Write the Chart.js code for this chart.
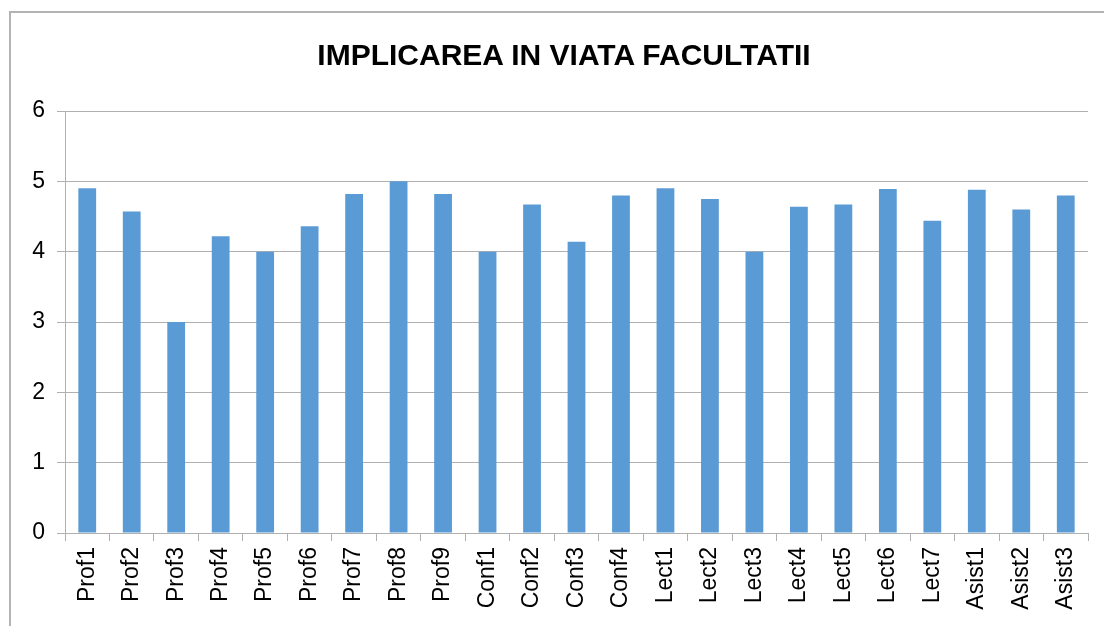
<!DOCTYPE html>
<html>
<head>
<meta charset="utf-8">
<script src="https://cdn.jsdelivr.net/npm/chart.js@4.4.1/dist/chart.umd.min.js"></script>
<style>
  html, body { margin: 0; padding: 0; background: #fff; overflow: hidden; }
  #frame { position: absolute; left: 9px; top: 11px; width: 1200px; height: 700px;
           border-left: 2px solid #b3b3b3; border-top: 2px solid #b3b3b3; }
  #wrap { position: absolute; left: 0; top: 0; width: 1104px; height: 626px; }
  #titlu { position: absolute; left: 164px; width: 800px; top: 37px; text-align: center;
           white-space: nowrap; font: bold 30px 'Liberation Sans', Arial, sans-serif; color: #000;
           line-height: 36px; }
</style>
</head>
<body>
<div id="frame"></div>
<div id="wrap"><canvas id="chartImplicare"></canvas></div>
<div id="titlu"></div>
<script>
// Categorii si valori
const categorii = ['Prof1','Prof2','Prof3','Prof4','Prof5','Prof6','Prof7','Prof8','Prof9',
  'Conf1','Conf2','Conf3','Conf4','Lect1','Lect2','Lect3','Lect4','Lect5','Lect6','Lect7',
  'Asist1','Asist2','Asist3'];
const valori = [4.9, 4.57, 3, 4.22, 4, 4.36, 4.82, 5, 4.82,
  4, 4.67, 4.14, 4.8, 4.9, 4.75, 4, 4.64, 4.67, 4.89, 4.44,
  4.88, 4.6, 4.8];
const titlu = 'IMPLICAREA IN VIATA FACULTATII';
const yMin = 0, yMax = 6, yPas = 1;

const gri = '#b0b0b0';
const fontAxe = { family: "'Liberation Sans', Arial, sans-serif", size: 23 };

// titlul e centrat pe tot chenarul (x ~ 564), nu pe zona graficului
document.getElementById('titlu').textContent = titlu;

const ctx = document.getElementById('chartImplicare').getContext('2d');
new Chart(ctx, {
  type: 'bar',
  data: {
    labels: categorii,
    datasets: [{ data: valori, backgroundColor: '#5b9bd5', borderWidth: 0,
      categoryPercentage: 1, barPercentage: 0.4 }]
  },
  options: {
    responsive: true, maintainAspectRatio: false, animation: false,
    layout: { padding: { left: 0, right: 16, top: 111, bottom: 0 } },
    plugins: {
      legend: { display: false },
      tooltip: { enabled: false },
      title: { display: false }
    },
    scales: {
      y: {
        min: yMin, max: yMax,
        ticks: { stepSize: yPas, color: '#000', font: fontAxe, padding: 12 },
        grid: { color: gri, lineWidth: 1, tickLength: 8, tickColor: gri },
        border: { color: gri, width: 1 },
        afterFit: s => { s.width = 65; }
      },
      x: {
        ticks: { color: '#000', font: fontAxe, minRotation: 90, maxRotation: 90, padding: 6, autoSkip: false },
        grid: { drawOnChartArea: false, drawTicks: true, tickLength: 8, color: gri, offset: true },
        border: { color: gri, width: 1 },
        afterFit: s => { s.height = 93; }
      }
    }
  }
});
</script>
</body>
</html>
